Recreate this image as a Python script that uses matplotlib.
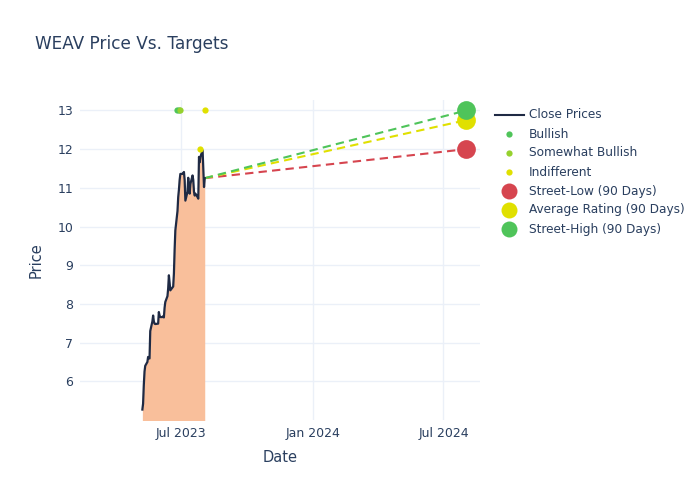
import matplotlib
matplotlib.use("Agg")
import matplotlib.pyplot as plt
import matplotlib.dates as mdates
from matplotlib.lines import Line2D
import pandas as pd

# close prices
close_dates = [
    "2023-05-08", "2023-05-09", "2023-05-10", "2023-05-11", "2023-05-12",
    "2023-05-15", "2023-05-16", "2023-05-17", "2023-05-18", "2023-05-19",
    "2023-05-22", "2023-05-23", "2023-05-24", "2023-05-25", "2023-05-26",
    "2023-05-30", "2023-05-31", "2023-06-01", "2023-06-02", "2023-06-05",
    "2023-06-06", "2023-06-07", "2023-06-08", "2023-06-09", "2023-06-12",
    "2023-06-13", "2023-06-14", "2023-06-15", "2023-06-16", "2023-06-20",
    "2023-06-21", "2023-06-22", "2023-06-23", "2023-06-26", "2023-06-27",
    "2023-06-28", "2023-06-29", "2023-06-30", "2023-07-03", "2023-07-05",
    "2023-07-06", "2023-07-07", "2023-07-10", "2023-07-11", "2023-07-12",
    "2023-07-13", "2023-07-14", "2023-07-17", "2023-07-18", "2023-07-19",
    "2023-07-20", "2023-07-21", "2023-07-24", "2023-07-25", "2023-07-26",
    "2023-07-27", "2023-07-28", "2023-07-31", "2023-08-01", "2023-08-02",
    "2023-08-03",
]
close_prices = [
    5.27, 5.42, 5.90, 6.25, 6.40,
    6.50, 6.63, 6.60, 6.59, 7.30,
    7.55, 7.70, 7.55, 7.49, 7.48,
    7.49, 7.79, 7.70, 7.66, 7.66,
    7.68, 7.65, 7.90, 8.05, 8.20,
    8.40, 8.74, 8.55, 8.35, 8.45,
    8.78, 9.40, 9.90, 10.40, 10.76,
    10.95, 11.20, 11.36, 11.36, 11.41,
    11.20, 10.67, 10.90, 11.26, 11.00,
    10.85, 11.10, 11.32, 11.20, 10.90,
    10.80, 10.85, 10.76, 10.72, 11.80,
    11.66, 11.80, 11.97, 11.50, 11.02,
    11.25,
]

# analyst ratings
bullish_dates = ["2023-06-26", "2023-06-28"]
bullish_targets = [13.0, 13.0]
smbullish_dates = ["2023-06-29"]
smbullish_targets = [13.0]
indiff_dates = ["2023-07-28", "2023-08-03"]
indiff_targets = [12.0, 13.0]

# 90-day street targets, one year out
target_date = "2024-08-02"
street_low = 12.0
street_avg = 12.75
street_high = 13.0

TXT = "#2a3f5f"
GRID = "#ebf0f8"
C_LINE = "#1f2a44"
C_FILL = "#f9bf9b"
C_RED = "#d6454f"
C_YEL = "#e0e000"
C_GRN = "#4fc45a"
C_SMB = "#96d12e"

cd = pd.to_datetime(close_dates)
td = pd.Timestamp(target_date)

fig = plt.figure(figsize=(7, 5), dpi=100)
ax = fig.add_axes([80 / 700, 80 / 500, 400 / 700, 320 / 500])

ax.fill_between(cd, close_prices, 0, color=C_FILL, lw=0, zorder=1)
ax.plot(cd, close_prices, color=C_LINE, lw=1.6, zorder=3)

last_d, last_p = cd[-1], close_prices[-1]
for val, col in [(street_low, C_RED), (street_avg, C_YEL), (street_high, C_GRN)]:
    ax.plot([last_d, td], [last_p, val], color=col, lw=1.5, dashes=(4, 2.5), zorder=2)
for val, col in [(street_low, C_RED), (street_avg, C_YEL), (street_high, C_GRN)]:
    ax.plot([td], [val], "o", color=col, ms=13.5, mew=0, zorder=4)

ax.plot(pd.to_datetime(bullish_dates), bullish_targets, "o", color=C_GRN, ms=4.5, mew=0, zorder=4)
ax.plot(pd.to_datetime(smbullish_dates), smbullish_targets, "o", color=C_SMB, ms=4.5, mew=0, zorder=4)
ax.plot(pd.to_datetime(indiff_dates), indiff_targets, "o", color=C_YEL, ms=4.5, mew=0, zorder=4)

ax.set_xlim(pd.Timestamp("2023-02-10"), pd.Timestamp("2024-08-21"))
ax.set_ylim(5.0, 13.27)
ax.set_yticks(range(6, 14))
ax.xaxis.set_major_locator(mdates.MonthLocator(bymonth=[1, 7]))
ax.xaxis.set_major_formatter(mdates.DateFormatter("%b %Y"))
ax.grid(True, color=GRID, lw=1, zorder=0)
ax.set_axisbelow(True)
for s in ax.spines.values():
    s.set_visible(False)
ax.tick_params(length=0, colors=TXT, labelsize=9, pad=5)
ax.set_xlabel("Date", color=TXT, fontsize=10.5, labelpad=7)
ax.set_ylabel("Price", color=TXT, fontsize=10.5, labelpad=10)

fig.text(35 / 700, 1 - 44 / 500, "WEAV Price Vs. Targets", color=TXT,
         fontsize=12.2, va="center", ha="left")

# legend, drawn by hand to match the reference layout
entries = [
    ("Close Prices", "line", C_LINE, 0),
    ("Bullish", "o", C_GRN, 4.5),
    ("Somewhat Bullish", "o", C_SMB, 4.5),
    ("Indifferent", "o", C_YEL, 4.5),
    ("Street-Low (90 Days)", "o", C_RED, 11.5),
    ("Average Rating (90 Days)", "o", C_YEL, 11.5),
    ("Street-High (90 Days)", "o", C_GRN, 11.5),
]
for i, (label, kind, col, ms) in enumerate(entries):
    y = 1 - (115 + 19 * i) / 500
    if kind == "line":
        fig.add_artist(Line2D([495 / 700, 524 / 700], [y, y], color=col, lw=1.5))
    else:
        fig.add_artist(Line2D([509 / 700], [y], marker="o", color=col, ms=ms, mew=0, ls=""))
    fig.text(529 / 700, y, label, color=TXT, fontsize=8.7, va="center", ha="left")

fig.savefig("out.png", dpi=100)
